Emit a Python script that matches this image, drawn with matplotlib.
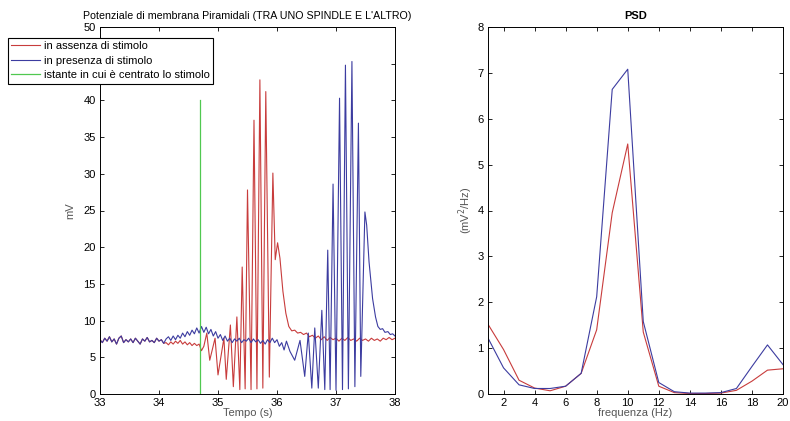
import matplotlib
matplotlib.use("Agg")
import matplotlib.pyplot as plt

plt.rcParams['font.family'] = ['Liberation Sans', 'DejaVu Sans']

# ---- shared baseline (both traces identical before ~34.1 s) ----
base_t = [33.00, 33.04, 33.08, 33.12, 33.16, 33.20, 33.24, 33.28, 33.32, 33.36,
          33.40, 33.44, 33.48, 33.52, 33.56, 33.60, 33.64, 33.68, 33.72, 33.76,
          33.80, 33.84, 33.88, 33.92, 33.96, 34.00, 34.04, 34.08]
base_v = [7.4, 7.0, 7.6, 7.2, 7.8, 7.1, 7.5, 6.8, 7.6, 7.9,
          7.0, 7.4, 7.1, 7.5, 7.0, 7.6, 7.2, 6.8, 7.5, 7.2,
          7.7, 7.1, 7.3, 7.0, 7.6, 7.2, 7.4, 6.9]

# ---- red: in assenza di stimolo ----
red_t = [34.12, 34.16, 34.20, 34.24, 34.28, 34.32, 34.36, 34.40, 34.44, 34.48,
         34.52, 34.56, 34.60, 34.64, 34.68, 34.72, 34.76, 34.81, 34.86, 34.95,
         35.00, 35.10, 35.14, 35.21, 35.26, 35.32, 35.37, 35.41, 35.46, 35.50,
         35.56, 35.61, 35.66, 35.71, 35.76, 35.81, 35.87, 35.93, 35.97, 36.01,
         36.05, 36.10, 36.15, 36.20, 36.25, 36.30, 36.35, 36.40, 36.45, 36.50,
         36.55, 36.60, 36.65, 36.70, 36.75, 36.80, 36.85, 36.90, 36.95, 37.00,
         37.05, 37.10, 37.15, 37.20, 37.25, 37.30, 37.35, 37.40, 37.45, 37.50,
         37.55, 37.60, 37.65, 37.70, 37.75, 37.80, 37.85, 37.90, 37.95, 38.00]
red_v = [7.0, 6.7, 7.1, 6.8, 7.2, 6.9, 7.3, 6.8, 7.1, 6.7,
         7.0, 6.6, 6.9, 6.6, 6.8, 5.9, 6.5, 8.3, 4.6, 7.6,
         2.6, 7.6, 2.0, 9.4, 1.0, 10.5, 0.6, 17.3, 0.7, 27.8,
         0.6, 37.3, 0.7, 42.8, 0.8, 41.2, 2.3, 30.1, 18.3, 20.6,
         18.5, 14.0, 11.0, 9.2, 8.6, 8.7, 8.3, 8.4, 8.1, 8.3,
         7.8, 8.0, 7.6, 7.9, 7.4, 7.8, 7.3, 7.7, 7.4, 7.6,
         7.2, 7.6, 7.3, 7.7, 7.3, 7.5, 7.2, 7.6, 7.3, 7.5,
         7.2, 7.6, 7.3, 7.5, 7.2, 7.6, 7.4, 7.7, 7.4, 7.6]

# ---- blue: in presenza di stimolo ----
blue_t = [34.12, 34.16, 34.20, 34.24, 34.28, 34.32, 34.36, 34.40, 34.44, 34.48,
          34.52, 34.56, 34.60, 34.64, 34.68, 34.72, 34.76, 34.80, 34.84, 34.88,
          34.92, 34.96, 35.00, 35.04, 35.08, 35.12, 35.16, 35.20, 35.24, 35.28,
          35.32, 35.36, 35.40, 35.44, 35.48, 35.52, 35.56, 35.60, 35.64, 35.68,
          35.72, 35.76, 35.80, 35.84, 35.88, 35.92, 35.96, 36.00, 36.04, 36.08,
          36.12, 36.16, 36.22, 36.30, 36.39, 36.47, 36.53, 36.59, 36.64, 36.70,
          36.76, 36.81, 36.86, 36.90, 36.95, 37.00, 37.06, 37.11, 37.16, 37.21,
          37.27, 37.32, 37.38, 37.42, 37.49, 37.52, 37.56, 37.62, 37.67, 37.71,
          37.75, 37.79, 37.83, 37.88, 37.92, 37.96, 38.00]
blue_v = [7.5, 7.8, 7.3, 7.9, 7.4, 8.0, 7.6, 8.3, 7.8, 8.5,
          8.0, 8.7, 8.2, 9.0, 8.3, 9.2, 8.4, 9.1, 8.2, 8.8,
          7.9, 8.5, 7.6, 8.1, 7.3, 7.9, 7.2, 7.6, 7.0, 7.5,
          7.2, 7.6, 7.0, 7.4, 7.2, 7.6, 7.0, 7.5, 7.1, 7.4,
          6.9, 7.3, 6.8, 7.4, 7.0, 7.6, 7.0, 7.4, 6.5, 7.0,
          6.0, 7.2, 5.8, 4.6, 7.3, 2.4, 8.3, 0.8, 9.0, 0.8,
          11.4, 0.6, 19.6, 0.6, 28.6, 0.5, 40.3, 0.6, 44.8, 0.7,
          45.3, 1.0, 36.9, 2.4, 24.8, 23.0, 18.0, 13.0, 10.5, 9.2,
          8.8, 8.9, 8.4, 8.5, 8.1, 8.2, 7.9]

stim_t = 34.7
stim_range = [0, 40]

# ---- PSD ----
freq = list(range(1, 21))
psd_red = [1.52, 0.97, 0.30, 0.13, 0.07, 0.17, 0.45, 1.40, 3.95, 5.45,
           1.35, 0.17, 0.03, 0.01, 0.01, 0.02, 0.08, 0.28, 0.52, 0.55]
psd_blue = [1.22, 0.57, 0.20, 0.12, 0.12, 0.17, 0.45, 2.12, 6.64, 7.08,
            1.58, 0.25, 0.05, 0.02, 0.02, 0.03, 0.12, 0.60, 1.07, 0.64]

RED = '#c83c3c'
BLUE = '#3c3ca0'
GREEN = '#50c850'
LBL = '#555555'

fig = plt.figure(figsize=(7.9, 4.21), dpi=100)
ax1 = fig.add_axes([100/790, 1-394/421, 295/790, 367/421])
ax2 = fig.add_axes([488/790, 1-394/421, 295/790, 367/421])

red_full_t = base_t + red_t
red_full_v = base_v + red_v
blue_full_t = base_t + blue_t
blue_full_v = base_v + blue_v

ax1.plot(red_full_t, red_full_v, color=RED, lw=0.8, label='in assenza di stimolo')
ax1.plot(blue_full_t, blue_full_v, color=BLUE, lw=0.8, label='in presenza di stimolo')
ax1.plot([stim_t, stim_t], stim_range, color=GREEN, lw=0.9,
         label='istante in cui è centrato lo stimolo')
ax1.set_xlim(33, 38)
ax1.set_ylim(0, 50)
ax1.set_xticks([33, 34, 35, 36, 37, 38])
ax1.set_yticks(range(0, 51, 5))
ax1.set_xlabel('Tempo (s)', color=LBL, fontsize=8, labelpad=0)
ax1.set_ylabel('mV', color=LBL, fontsize=8, labelpad=6)
ax1.set_title("Potenziale di membrana Piramidali (TRA UNO SPINDLE E L'ALTRO)",
              fontsize=7.7, pad=6)

leg = ax1.legend(loc='upper left', bbox_to_anchor=(8/790, 1-38/421),
                 bbox_transform=fig.transFigure, fontsize=8, frameon=True,
                 fancybox=False, edgecolor='black', framealpha=1,
                 handlelength=2.6, handletextpad=0.3, borderpad=0.3,
                 labelspacing=0.4, borderaxespad=0)
leg.get_frame().set_linewidth(0.8)
leg.set_zorder(10)

ax2.plot(freq, psd_red, color=RED, lw=0.8)
ax2.plot(freq, psd_blue, color=BLUE, lw=0.8)
ax2.set_xlim(1, 20)
ax2.set_ylim(0, 8)
ax2.set_xticks(range(2, 21, 2))
ax2.set_yticks(range(0, 9))
ax2.set_xlabel('frequenza (Hz)', color=LBL, fontsize=8, labelpad=0)
ax2.set_ylabel('(mV$^2$/Hz)', color=LBL, fontsize=8, labelpad=2)
ax2.set_title('PSD', fontsize=8, fontweight='bold', pad=6)

for ax in (ax1, ax2):
    ax.tick_params(direction='in', top=True, right=True, labelsize=8,
                   length=3, width=0.6, pad=3)
    for s in ax.spines.values():
        s.set_linewidth(0.7)

fig.savefig('out.png', dpi=100)
